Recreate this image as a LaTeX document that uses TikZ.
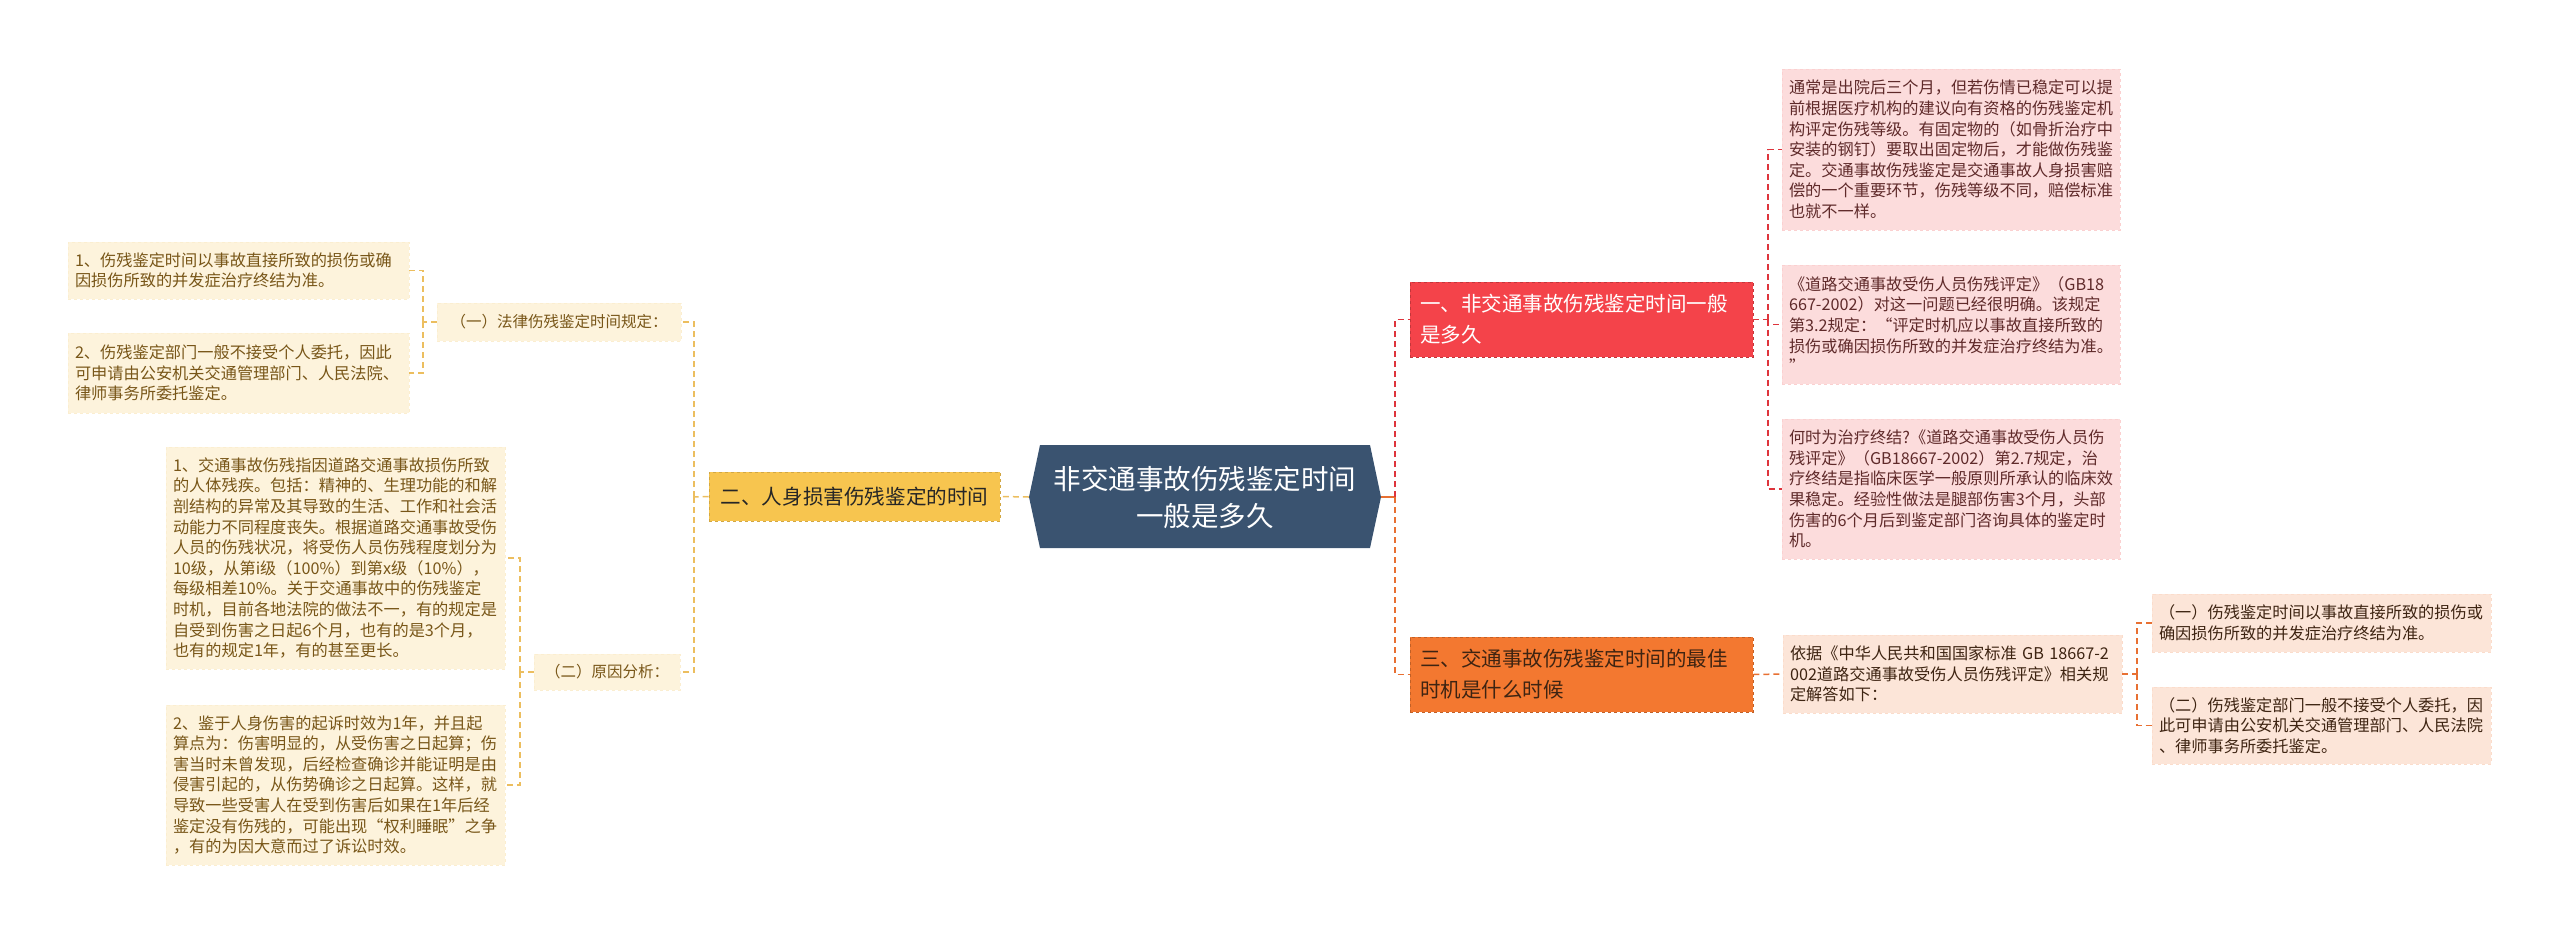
\documentclass[tikz,border=0pt]{standalone}
\usepackage{fontspec}
\setmainfont{Noto Sans CJK SC}
\usepackage{xcolor}
\definecolor{mmnavy}{RGB}{58,83,112}
\definecolor{mmyellow}{RGB}{247,197,79}
\definecolor{mmcream}{RGB}{253,243,220}
\definecolor{mmgold}{RGB}{236,190,95}
\definecolor{mmbrown}{RGB}{120,86,24}
\definecolor{mmred}{RGB}{244,67,74}
\definecolor{mmpink}{RGB}{252,220,220}
\definecolor{mmredline}{RGB}{222,52,60}
\definecolor{mmwine}{RGB}{95,42,42}
\definecolor{mmorange}{RGB}{243,120,48}
\definecolor{mmpeach}{RGB}{252,229,216}
\definecolor{mmorangeline}{RGB}{232,112,50}
\definecolor{mmdark}{RGB}{62,36,18}
\usepackage{tikz}
\usetikzlibrary{positioning}

\tikzset{
  link/.style={line width=1.5pt, dash pattern=on 6pt off 4pt},
  branchbox/.style={rectangle, inner xsep=10pt, inner ysep=0pt, align=left,
       dashed, line width=0.8pt, font=\fontsize{20.5}{31}\selectfont},
  leafbox/.style n args={2}{rectangle, inner xsep=7pt, inner ysep=0pt, align=left,
       text width=#1, minimum height=#2, font=\fontsize{16.2}{20.6}\selectfont},
  yleaf/.style={fill=mmcream, draw=mmcream!90!mmgold, dashed, line width=0.5pt, text=mmbrown},
  pleaf/.style={fill=mmpink, draw=mmpink!92!mmred, dashed, line width=0.5pt, text=mmwine},
  oleaf/.style={fill=mmpeach, draw=mmpeach!92!mmorange, dashed, line width=0.5pt, text=mmdark}
}

\begin{document}
\begin{tikzpicture}[x=1pt, y=-1pt]
  \useasboundingbox (0,0) rectangle (2560,935);

  % Root -- hexagon in the middle
  \fill[mmnavy] (1040,445) -- (1370,445) -- (1381,497) -- (1370,548)
       -- (1040,548) -- (1029,497) -- cycle;
  \node[minimum width=352pt, minimum height=103pt, inner sep=0pt, align=center,
        text=white, font=\fontsize{27.5}{37}\selectfont] (root) at (1205,497)
       {非交通事故伤残鉴定时间\\一般是多久};

  % Left branch -- yellow
  \node[rectangle, fill=mmyellow, draw=mmyellow!85!black, dashed, line width=0.8pt,
        minimum width=291pt, minimum height=49pt, inner sep=0pt, text=black!85,
        font=\fontsize{20.6}{26}\selectfont] (b2) at (854.5,496.5)
       {二、人身损害伤残鉴定的时间};
  \node[yleaf, minimum width=244pt, minimum height=38pt, inner sep=0pt,
        font=\fontsize{15.5}{20}\selectfont] (s1) at (559,322)
       {（一）法律伤残鉴定时间规定：};
  \node[yleaf, minimum width=146pt, minimum height=36pt, inner sep=0pt,
        font=\fontsize{15.5}{20}\selectfont] (s2) at (607,672)
       {（二）原因分析：};
  \node[yleaf, leafbox={327pt}{57pt}] (l1) at (238.5,270.5)
       {1、伤残鉴定时间以事故直接所致的损伤或确\\因损伤所致的并发症治疗终结为准。};
  \node[yleaf, leafbox={327pt}{80pt}] (l2) at (238.5,373)
       {2、伤残鉴定部门一般不接受个人委托，因此\\可申请由公安机关交通管理部门、人民法院、\\律师事务所委托鉴定。};
  \node[yleaf, leafbox={325pt}{222pt}] (l3) at (335.5,558)
       {1、交通事故伤残指因道路交通事故损伤所致\\
        的人体残疾。包括：精神的、生理功能的和解\\
        剖结构的异常及其导致的生活、工作和社会活\\
        动能力不同程度丧失。根据道路交通事故受伤\\
        人员的伤残状况，将受伤人员伤残程度划分为\\
        10级，从第i级（100\%）到第x级（10\%），\\
        每级相差10\%。关于交通事故中的伤残鉴定\\
        时机，目前各地法院的做法不一，有的规定是\\
        自受到伤害之日起6个月，也有的是3个月，\\
        也有的规定1年，有的甚至更长。};
  \node[yleaf, leafbox={325pt}{160pt}] (l4) at (335.5,785)
       {2、鉴于人身伤害的起诉时效为1年，并且起\\
        算点为：伤害明显的，从受伤害之日起算；伤\\
        害当时未曾发现，后经检查确诊并能证明是由\\
        侵害引起的，从伤势确诊之日起算。这样，就\\
        导致一些受害人在受到伤害后如果在1年后经\\
        鉴定没有伤残的，可能出现“权利睡眠”之争\\
        ，有的为因大意而过了诉讼时效。};

  % Right branch 1 -- red
  \node[branchbox, fill=mmred, draw=mmred!80!black, text=white,
        text width=323pt, minimum height=75pt] (b1) at (1581.5,319.5)
       {一、非交通事故伤残鉴定时间一般\\是多久};
  \node[pleaf, leafbox={324pt}{161pt}] (r1) at (1951,149.5)
       {通常是出院后三个月，但若伤情已稳定可以提\\
        前根据医疗机构的建议向有资格的伤残鉴定机\\
        构评定伤残等级。有固定物的（如骨折治疗中\\
        安装的钢钉）要取出固定物后，才能做伤残鉴\\
        定。交通事故伤残鉴定是交通事故人身损害赔\\
        偿的一个重要环节，伤残等级不同，赔偿标准\\
        也就不一样。};
  \node[pleaf, leafbox={324pt}{119pt}] (r2) at (1951,324.5)
       {《道路交通事故受伤人员伤残评定》（GB18\\
        667-2002）对这一问题已经很明确。该规定\\
        第3.2规定：“评定时机应以事故直接所致的\\
        损伤或确因损伤所致的并发症治疗终结为准。\\
        ”};
  \node[pleaf, leafbox={324pt}{140pt}] (r3) at (1951,489)
       {何时为治疗终结?《道路交通事故受伤人员伤\\
        残评定》（GB18667-2002）第2.7规定，治\\
        疗终结是指临床医学一般原则所承认的临床效\\
        果稳定。经验性做法是腿部伤害3个月，头部\\
        伤害的6个月后到鉴定部门咨询具体的鉴定时\\
        机。};

  % Right branch 3 -- orange
  \node[branchbox, fill=mmorange, draw=mmorange!80!black, text=mmdark,
        text width=323pt, minimum height=75pt] (b3) at (1581.5,674.5)
       {三、交通事故伤残鉴定时间的最佳\\时机是什么时候};
  \node[oleaf, leafbox={325pt}{78pt}] (m) at (1952.5,674)
       {依据《中华人民共和国国家标准 GB 18667-2\\
        002道路交通事故受伤人员伤残评定》相关规\\
        定解答如下：};
  \node[oleaf, leafbox={325pt}{58pt}] (r4) at (2321.5,623)
       {（一）伤残鉴定时间以事故直接所致的损伤或\\
        确因损伤所致的并发症治疗终结为准。};
  \node[oleaf, leafbox={325pt}{77pt}] (r5) at (2321.5,725.5)
       {（二）伤残鉴定部门一般不接受个人委托，因\\
        此可申请由公安机关交通管理部门、人民法院\\
        、律师事务所委托鉴定。};

  % Joints
  \coordinate (rj) at (1395,497);
  \coordinate (rj1) at (1768,319.5);
  \coordinate (rj3) at (2137,674);
  \coordinate (lj) at (694,497);
  \coordinate (lj1) at (423,322);
  \coordinate (lj2) at (520,672);

  % Connectors -- right side
  \draw[mmorangeline, line width=1.5pt] (root.east) -- (rj);
  \draw[link, mmredline] (rj) |- (b1.west);
  \draw[link, mmorangeline] (rj) |- (b3.west);
  \draw[link, mmredline] (b1.east) -- (rj1);
  \draw[link, mmredline] (rj1) |- (r1.west);
  \draw[link, mmredline] (rj1) |- (r2.west);
  \draw[link, mmredline] (rj1) |- (r3.west);
  \draw[link, mmorangeline] (b3.east) -- (m.west);
  \draw[link, mmorangeline] (m.east) -- (rj3);
  \draw[link, mmorangeline] (rj3) |- (r4.west);
  \draw[link, mmorangeline] (rj3) |- (r5.west);

  % Connectors -- left side
  \draw[link, mmgold] (root.west) -- (b2.east);
  \draw[link, mmgold] (b2.west) -- (lj);
  \draw[link, mmgold] (lj) |- (s1.east);
  \draw[link, mmgold] (lj) |- (s2.east);
  \draw[link, mmgold] (s1.west) -- (lj1);
  \draw[link, mmgold] (lj1) |- (l1.east);
  \draw[link, mmgold] (lj1) |- (l2.east);
  \draw[link, mmgold] (s2.west) -- (lj2);
  \draw[link, mmgold] (lj2) |- (l3.east);
  \draw[link, mmgold] (lj2) |- (l4.east);
\end{tikzpicture}
\end{document}
